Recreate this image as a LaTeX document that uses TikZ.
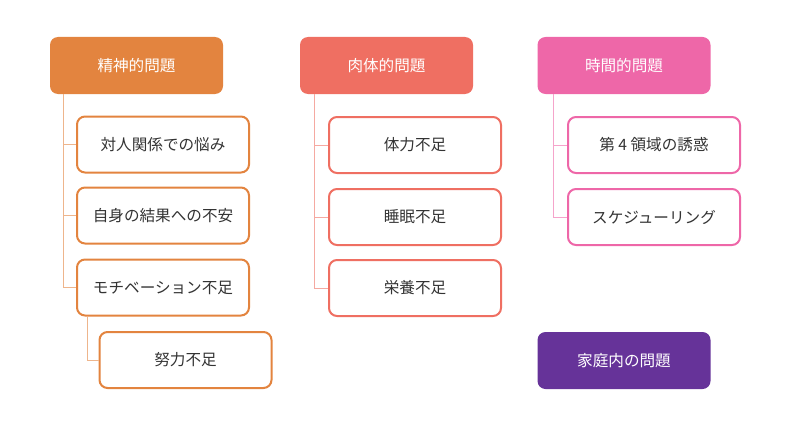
\documentclass[tikz,border=0pt]{standalone}
\usepackage{fontspec}
\setmainfont{Noto Sans CJK JP}
\definecolor{seishin}{HTML}{E3843F}
\definecolor{nikutai}{HTML}{EF6F62}
\definecolor{jikan}{HTML}{EE67A8}
\definecolor{katei}{HTML}{663399}
\definecolor{txt}{HTML}{333333}
\begin{document}
\begin{tikzpicture}[x=1pt,y=-1pt,
  head/.style={rounded corners=8pt, minimum width=173pt, minimum height=57pt, fill=#1, text=white, font=\fontsize{15.6}{18}\selectfont},
  item/.style={rounded corners=8pt, minimum width=172pt, minimum height=56pt, draw=#1, line width=2pt, fill=white, text=txt, font=\fontsize{15.6}{18}\selectfont},
  link/.style={draw=#1!60, line width=1pt}]
\useasboundingbox (0,0) rectangle (800,436);
\node[head=seishin] (h1) at (136.5,65.5){精神的問題};
\node[item=seishin] (h1a) at (163,144.5){対人関係での悩み};
\node[item=seishin] (h1b) at (163,215.5){自身の結果への不安};
\node[item=seishin] (h1c) at (163,287.5){モチベーション不足};
\node[item=seishin] (h1ca) at (185.5,360){努力不足};
\draw[link=seishin] ([xshift=14pt]h1.south west) |- (h1a.west);
\draw[link=seishin] ([xshift=14pt]h1.south west) |- (h1b.west);
\draw[link=seishin] ([xshift=14pt]h1.south west) |- (h1c.west);
\draw[link=seishin] ([xshift=11pt]h1c.south west) |- (h1ca.west);
\node[head=nikutai] (h2) at (386.5,65.5){肉体的問題};
\node[item=nikutai] (h2a) at (415,145){体力不足};
\node[item=nikutai] (h2b) at (415,217){睡眠不足};
\node[item=nikutai] (h2c) at (415,288){栄養不足};
\draw[link=nikutai] ([xshift=15pt]h2.south west) |- (h2a.west);
\draw[link=nikutai] ([xshift=15pt]h2.south west) |- (h2b.west);
\draw[link=nikutai] ([xshift=15pt]h2.south west) |- (h2c.west);
\node[head=jikan] (h3) at (624,65.5){時間的問題};
\node[item=jikan] (h3a) at (654,145){第 4 領域の誘惑};
\node[item=jikan] (h3b) at (654,217){スケジューリング};
\draw[link=jikan] ([xshift=16pt]h3.south west) |- (h3a.west);
\draw[link=jikan] ([xshift=16pt]h3.south west) |- (h3b.west);
\node[head=katei] (h4) at (624,360.5){家庭内の問題};
\end{tikzpicture}
\end{document}
